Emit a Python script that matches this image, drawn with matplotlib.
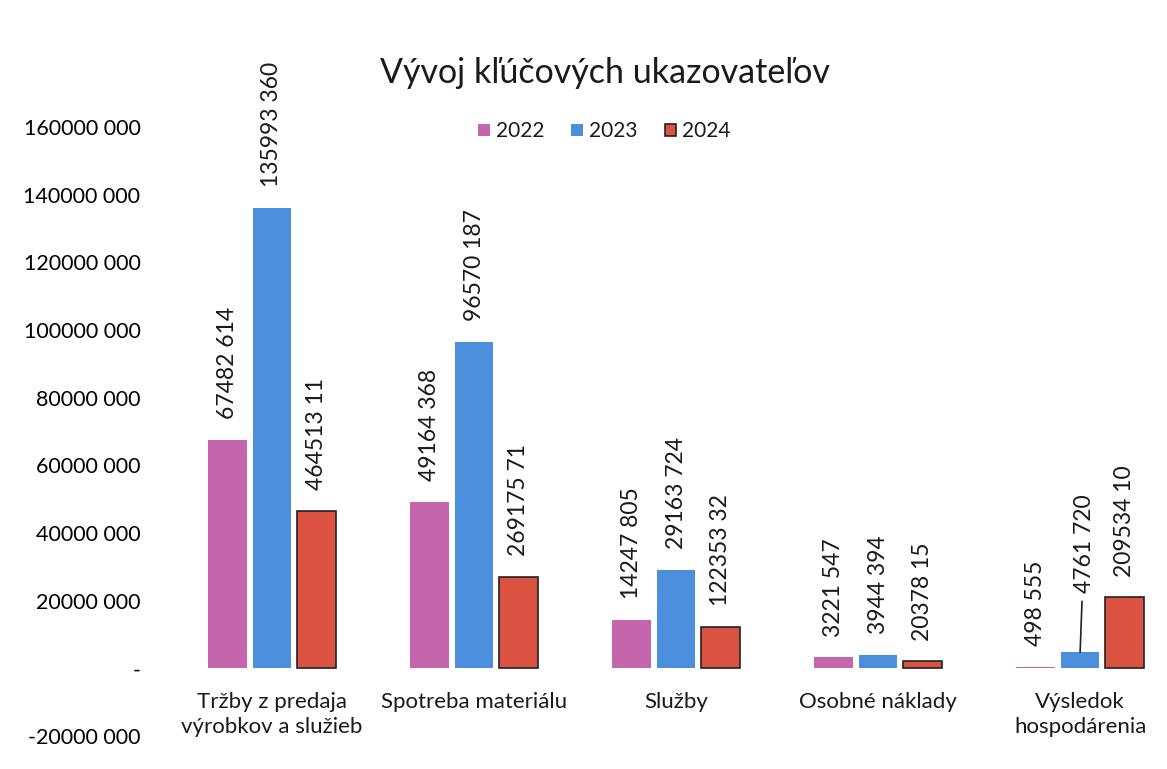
import numpy as np
import matplotlib
import matplotlib.pyplot as plt

matplotlib.use('Agg')

categories = ['Tržby z predaja\nvýrobkov a služieb', 'Spotreba materiálu', 'Služby',
              'Osobné náklady', 'Výsledok\nhospodárenia']
years = ['2022', '2023', '2024']
v2022 = [67482614, 49164368, 14247805, 3221547, 498555]
v2023 = [135993360, 96570187, 29163724, 3944394, 4761720]
v2024 = [46451311, 26917571, 12235332, 2037815, 20953410]
lab2022 = ['67482 614', '49164 368', '14247 805', '3221 547', '498 555']
lab2023 = ['135993 360', '96570 187', '29163 724', '3944 394', '4761 720']
lab2024 = ['464513 11', '269175 71', '122353 32', '20378 15', '209534 10']
yticks = [-20000000, 0, 20000000, 40000000, 60000000, 80000000,
          100000000, 120000000, 140000000, 160000000]
yticklabels = ['-20000 000', '-', '20000 000', '40000 000', '60000 000', '80000 000',
               '100000 000', '120000 000', '140000 000', '160000 000']

colors = ['#C465AE', '#4B8EDB', '#DB5241']
edges = ['none', 'none', '#222222']

plt.rcParams['font.family'] = ['Lato', 'DejaVu Sans']
plt.rcParams['text.color'] = '#1a1a1a'

fig = plt.figure(figsize=(11.67, 7.69), dpi=100)
ax = fig.add_axes([0.1465, 0.043, 1 - 0.1465, 0.88])

x = np.arange(len(categories))
w = 0.19
step = 0.22
series = [v2022, v2023, v2024]
labels = [lab2022, lab2023, lab2024]
for i, (vals, labs) in enumerate(zip(series, labels)):
    xs = x + (i - 1) * step
    ax.bar(xs, vals, w, color=colors[i], edgecolor=edges[i], linewidth=1.2, label=years[i])
    for j, (xx, v, t) in enumerate(zip(xs, vals, labs)):
        if i == 1 and j == 4:
            # moved label with leader line
            ax.annotate(t, xy=(xx, v), xytext=(xx + 0.02, v + 17500000),
                        rotation=90, ha='center', va='bottom', fontsize=16.5,
                        arrowprops=dict(arrowstyle='-', color='#222222', lw=1.2,
                                        shrinkA=4, shrinkB=0))
        else:
            ax.annotate(t, xy=(xx, v), xytext=(0, 15), textcoords='offset points',
                        rotation=90, ha='center', va='bottom', fontsize=16.5)

for xx, c in zip(x, categories):
    ax.text(xx, -7000000, c, ha='center', va='top', fontsize=16, linespacing=1.3)

ax.set_xlim(-0.5, 4.43)
ax.set_ylim(-20000000, 180000000)
ax.set_xticks([])
ax.set_yticks(yticks)
ax.set_yticklabels(yticklabels, fontsize=15.5)
ax.tick_params(axis='y', length=0, pad=22)
for s in ax.spines.values():
    s.set_visible(False)

fig.text(0.518, 0.905, 'Vývoj kľúčových ukazovateľov', ha='center', va='center', fontsize=24.5)
fig.legend(loc='center', bbox_to_anchor=(0.518, 0.829), ncol=3, frameon=False,
           fontsize=15, handlelength=0.55, handleheight=0.55, handletextpad=0.3,
           columnspacing=1.3)

fig.savefig('out.png')
